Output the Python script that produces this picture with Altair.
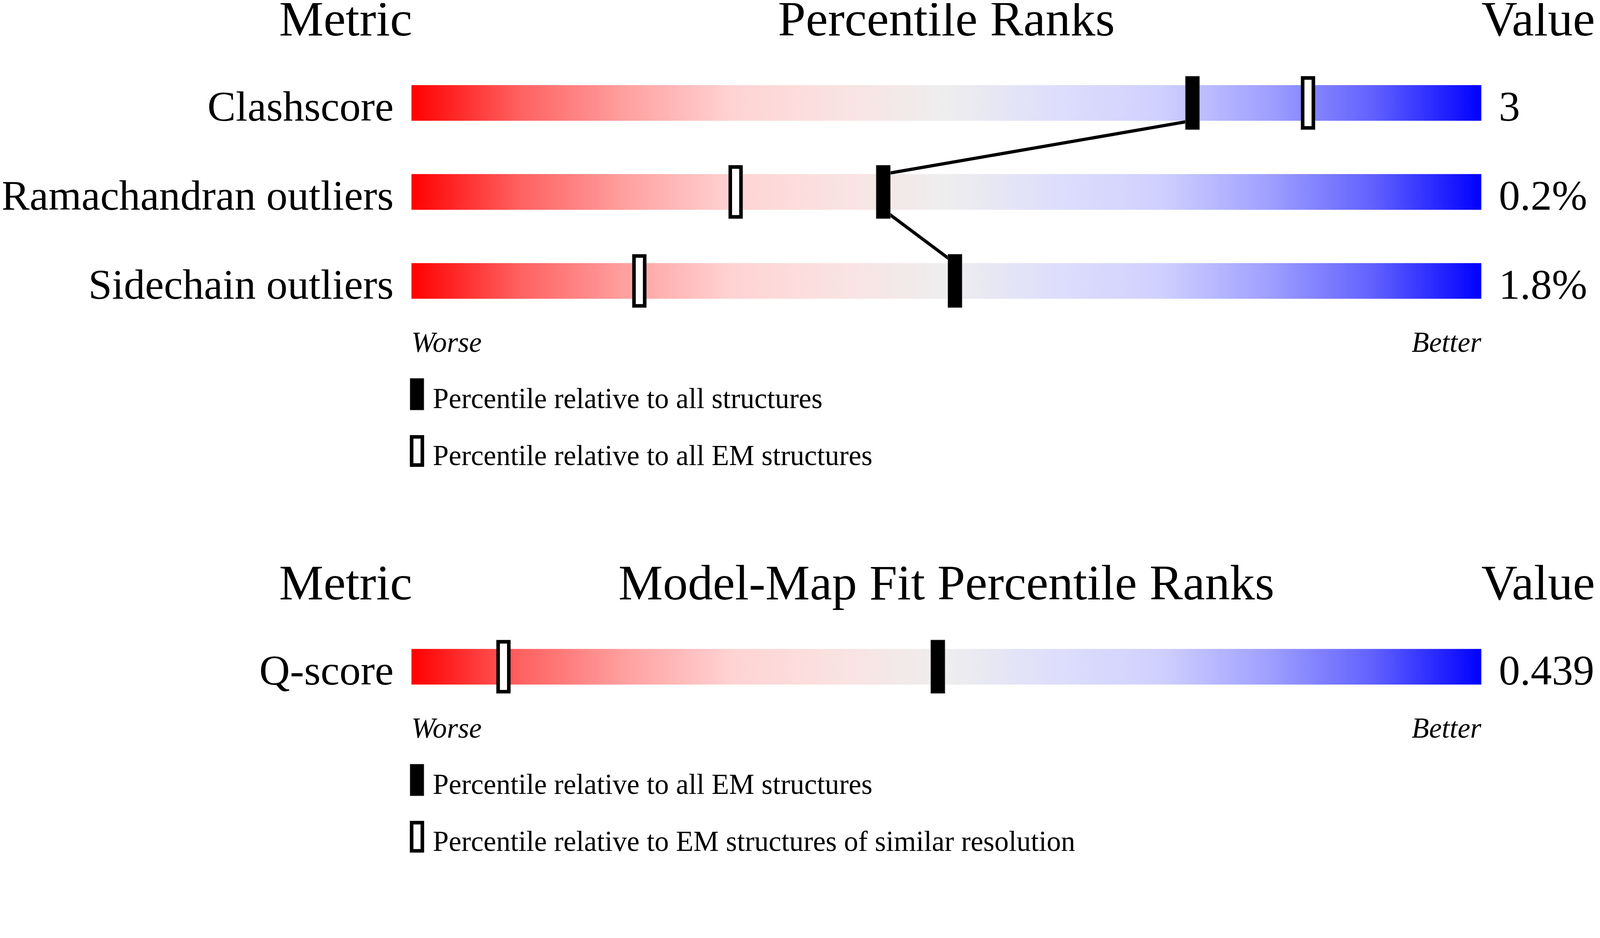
import altair as alt
import pandas as pd

# --- data ---
# validation panel
metrics = ["Clashscore", "Ramachandran outliers", "Sidechain outliers"]
metric_values = ["3", "0.2%", "1.8%"]
pct_all = [73.0, 44.1, 50.8]       # filled marker: all structures
pct_em = [83.8, 30.3, 21.3]        # open marker: all EM structures

# model-map fit panel
fit_metrics = ["Q-score"]
fit_values = ["0.439"]
fit_pct_em = [49.2]                # filled marker: all EM structures
fit_pct_similar = [8.6]            # open marker: EM structures of similar resolution

panel_titles = ["Percentile Ranks", "Model-Map Fit Percentile Ranks"]
legend_labels = [
    ["Percentile relative to all structures",
     "Percentile relative to all EM structures"],
    ["Percentile relative to all EM structures",
     "Percentile relative to EM structures of similar resolution"],
]

# slider colours, worse (red) -> better (blue)
grad_offsets = [0.0, 0.1, 0.2, 0.3, 0.4, 0.5, 0.6, 0.7, 0.8, 0.9, 1.0]
grad_colors = ["#ff0000", "#ff6060", "#ffa0a0", "#ffd3d3", "#fae2e2", "#eeeeee",
               "#dedefc", "#d0d0ff", "#a0a0ff", "#6060ff", "#0000ff"]

# --- layout (pixels) ---
FONT = "Liberation Serif"
ROW_PX = 251            # distance between rows
BAR_PX = 100            # slider thickness
GAP_PX = 1088           # last row of panel 1 -> row of panel 2
PLOT_W = 3000
SVG_W, SVG_H = 4469, 2268
PAD_LEFT, PAD_TOP = 1145, 42


def px(v):
    """pixels -> row units of the y scale"""
    return v / ROW_PX


q_slot = 2 + px(GAP_PX)
y_lo, y_hi = -0.5, q_slot + 0.5
PLOT_H = (y_hi - y_lo) * ROW_PX

XS = alt.Scale(domain=[0, 100], nice=False, zero=False)
YS = alt.Scale(domain=[y_lo, y_hi], nice=False, zero=False, reverse=True)


def xd(v):
    return alt.X(datum=v, type="quantitative", scale=XS, axis=None)


def yf(field):
    return alt.Y(f"{field}:Q", scale=YS, axis=None)


panels = [
    dict(metrics=metrics, values=metric_values, filled=pct_all, open=pct_em,
         slots=[0, 1, 2]),
    dict(metrics=fit_metrics, values=fit_values, filled=fit_pct_em,
         open=fit_pct_similar, slots=[q_slot]),
]

row_recs, head_recs, foot_recs, leg_recs, line_recs = [], [], [], [], []
for p, pn in enumerate(panels):
    for m, v, f, o, s in zip(pn["metrics"], pn["values"], pn["filled"],
                             pn["open"], pn["slots"]):
        row_recs.append({"metric": m, "value": v, "filled": f, "open": o, "slot": s})
    first, last = pn["slots"][0], pn["slots"][-1]
    head_recs.append({"title": panel_titles[p], "ys": first - px(190)})
    foot_recs.append({"ys": last + px(200)})
    for i, lab in enumerate(legend_labels[p]):
        leg_recs.append({"label": lab, "kind": "filled" if i == 0 else "open",
                         "ys": last + px(359 + 160 * i),
                         "gs": last + px(319.5 + 160 * i)})
    # connector between filled markers of consecutive rows
    k = 0
    for i in range(len(pn["slots"]) - 1):
        line_recs.append({"pct": pn["filled"][i], "ys": pn["slots"][i] + px(BAR_PX / 2), "k": k})
        line_recs.append({"pct": pn["filled"][i + 1], "ys": pn["slots"][i + 1] - px(BAR_PX / 2), "k": k + 1})
        k += 2

rows = pd.DataFrame(row_recs)
heads = pd.DataFrame(head_recs)
foots = pd.DataFrame(foot_recs)
legs = pd.DataFrame(leg_recs)
links = pd.DataFrame(line_recs)

gradient = alt.LinearGradient(
    gradient="linear",
    stops=[alt.GradientStop(offset=o, color=c) for o, c in zip(grad_offsets, grad_colors)],
    x1=0, x2=1, y1=0, y2=0,
)

bars = alt.Chart(rows).mark_bar(size=BAR_PX, fill=gradient, opacity=1).encode(
    x=xd(0), x2=alt.X2(datum=100), y=yf("slot")
)

link = alt.Chart(links).mark_line(color="black", strokeWidth=9).encode(
    x=alt.X("pct:Q", scale=XS, axis=None), y=yf("ys"), order="k:Q"
)

open_marks = alt.Chart(rows).mark_tick(
    orient="vertical", size=140, thickness=30, fill="white", stroke="black",
    strokeWidth=10, opacity=1
).encode(x=alt.X("open:Q", scale=XS, axis=None), y=yf("slot"))

filled_marks = alt.Chart(rows).mark_tick(
    orient="vertical", size=150, thickness=40, fill="black", stroke="#808080",
    strokeWidth=1, opacity=1
).encode(x=alt.X("filled:Q", scale=XS, axis=None), y=yf("slot"))

label_txt = alt.Chart(rows).mark_text(
    align="right", baseline="alphabetic", dx=-50, dy=BAR_PX / 2, font=FONT, fontSize=119
).encode(x=xd(0), y=yf("slot"), text="metric:N")

value_txt = alt.Chart(rows).mark_text(
    align="left", baseline="alphabetic", dx=49, dy=BAR_PX / 2, font=FONT, fontSize=119
).encode(x=xd(100), y=yf("slot"), text="value:N")

head_metric = alt.Chart(heads).mark_text(
    align="right", baseline="alphabetic", dx=2, font=FONT, fontSize=140, text="Metric"
).encode(x=xd(0), y=yf("ys"))

head_title = alt.Chart(heads).mark_text(
    align="center", baseline="alphabetic", font=FONT, fontSize=140
).encode(x=xd(50), y=yf("ys"), text="title:N")

head_value = alt.Chart(heads).mark_text(
    align="left", baseline="alphabetic", font=FONT, fontSize=140, text="Value"
).encode(x=xd(100), y=yf("ys"))

worse = alt.Chart(foots).mark_text(
    align="left", baseline="alphabetic", font=FONT, fontSize=80, fontStyle="italic",
    text="Worse"
).encode(x=xd(0), y=yf("ys"))

better = alt.Chart(foots).mark_text(
    align="right", baseline="alphabetic", font=FONT, fontSize=80, fontStyle="italic",
    text="Better"
).encode(x=xd(100), y=yf("ys"))

leg_filled = alt.Chart(legs).transform_filter(alt.datum.kind == "filled").mark_tick(
    orient="vertical", size=89, thickness=39, fill="black", stroke="#808080",
    strokeWidth=1, opacity=1
).encode(x=alt.value(15.5), y=yf("gs"))

leg_open = alt.Chart(legs).transform_filter(alt.datum.kind == "open").mark_tick(
    orient="vertical", size=79, thickness=30, fill="white", stroke="black",
    strokeWidth=10, opacity=1
).encode(x=alt.value(15.5), y=yf("gs"))

leg_txt = alt.Chart(legs).mark_text(
    align="left", baseline="alphabetic", font=FONT, fontSize=80
).encode(x=alt.value(60), y=yf("ys"), text="label:N")

chart = alt.layer(
    bars, link, open_marks, filled_marks, label_txt, value_txt,
    head_metric, head_title, head_value, worse, better,
    leg_filled, leg_open, leg_txt,
).properties(
    width=PLOT_W,
    height=PLOT_H,
    autosize=alt.AutoSizeParams(type="none"),
    padding={"left": PAD_LEFT, "top": PAD_TOP,
             "right": SVG_W - PAD_LEFT - PLOT_W,
             "bottom": SVG_H - PAD_TOP - PLOT_H},
    background="white",
).configure_view(strokeWidth=0)

chart.save("out.html", embed_options={"renderer": "svg", "actions": False})
